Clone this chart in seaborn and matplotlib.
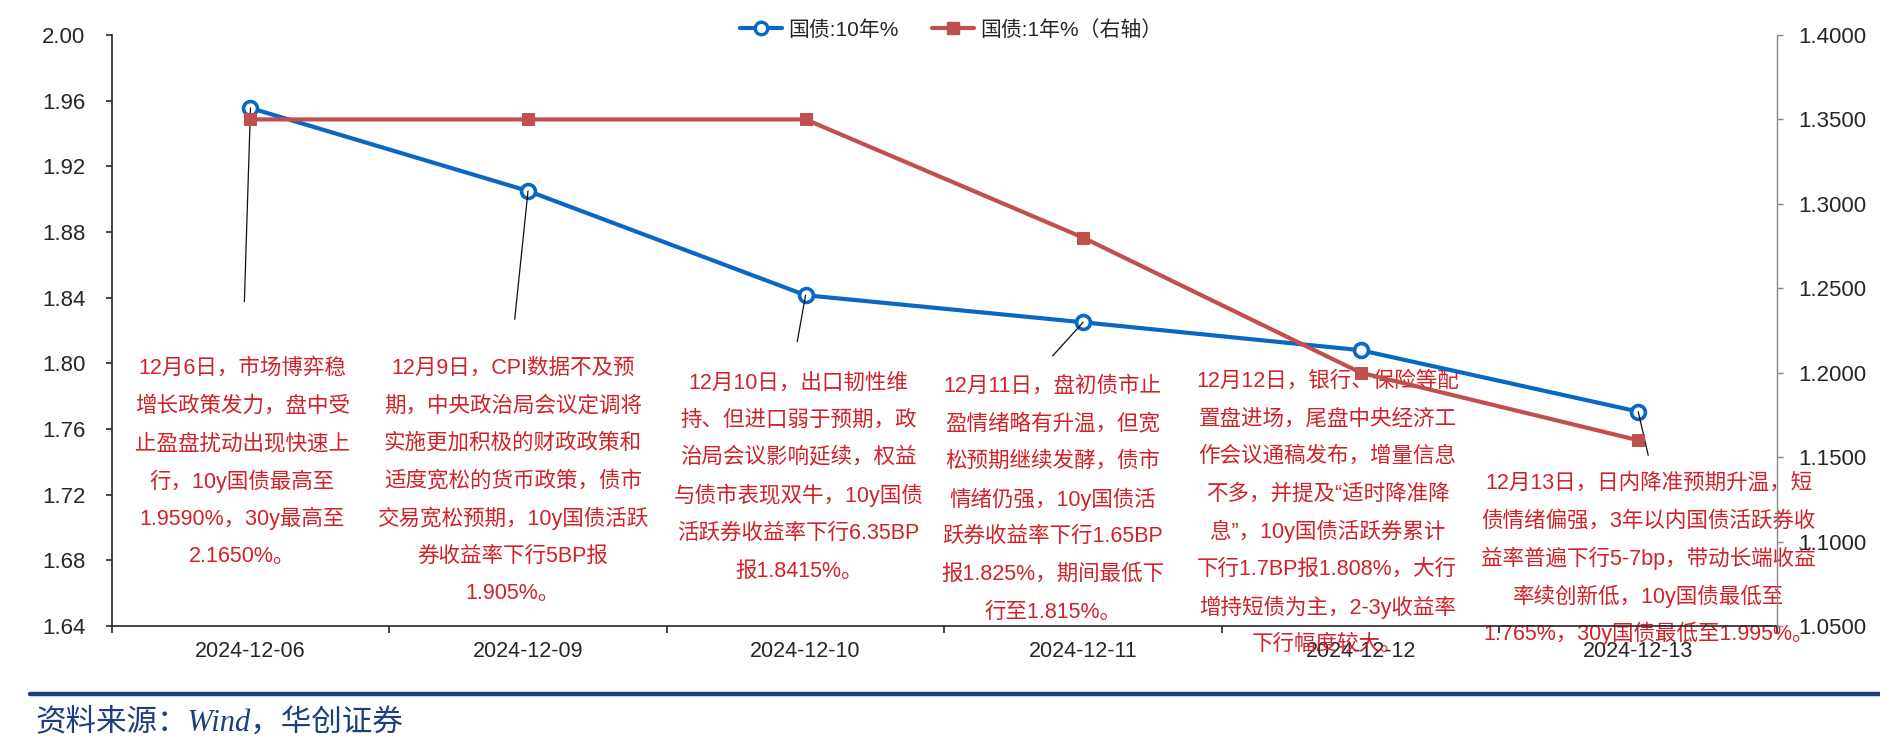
import matplotlib
matplotlib.use('Agg')
import matplotlib.pyplot as plt
import seaborn as sns
import pandas as pd
from matplotlib.lines import Line2D
from matplotlib.ticker import FormatStrFormatter, MultipleLocator

# ---------------- data ----------------
dates = ['2024-12-06', '2024-12-09', '2024-12-10', '2024-12-11', '2024-12-12', '2024-12-13']
yield_10y = [1.9555, 1.905, 1.8415, 1.825, 1.808, 1.7706]
yield_1y = [1.35, 1.35, 1.35, 1.28, 1.20, 1.16]
label_10y = '国债:10年%'
label_1y = '国债:1年%（右轴）'
source_text = '资料来源：Wind，华创证券'

note_1206 = ['12月6日，市场博弈稳', '增长政策发力，盘中受', '止盈盘扰动出现快速上',
             '行，10y国债最高至', '1.9590%，30y最高至', '2.1650%。']
note_1209 = ['12月9日，CPI数据不及预', '期，中央政治局会议定调将', '实施更加积极的财政政策和',
             '适度宽松的货币政策，债市', '交易宽松预期，10y国债活跃', '券收益率下行5BP报', '1.905%。']
note_1210 = ['12月10日，出口韧性维', '持、但进口弱于预期，政', '治局会议影响延续，权益',
             '与债市表现双牛，10y国债', '活跃券收益率下行6.35BP', '报1.8415%。']
note_1211 = ['12月11日，盘初债市止', '盈情绪略有升温，但宽', '松预期继续发酵，债市',
             '情绪仍强，10y国债活', '跃券收益率下行1.65BP', '报1.825%，期间最低下', '行至1.815%。']
note_1212 = ['12月12日，银行、保险等配', '置盘进场，尾盘中央经济工', '作会议通稿发布，增量信息',
             '不多，并提及“适时降准降', '息”，10y国债活跃券累计', '下行1.7BP报1.808%，大行',
             '增持短债为主，2-3y收益率', '下行幅度较大。']
note_1213 = ['12月13日，日内降准预期升温，短', '债情绪偏强，3年以内国债活跃券收',
             '益率普遍下行5-7bp，带动长端收益', '率续创新低，10y国债最低至',
             '1.765%，30y国债最低至1.995%。']
notes = [note_1206, note_1209, note_1210, note_1211, note_1212, note_1213]

# layout of the note blocks: (x offset from category, y of first line on left axis)
note_layout = [(-0.03, 1.797), (-0.055, 1.797), (-0.025, 1.788),
               (-0.11, 1.786), (-0.12, 1.789), (0.037, 1.727)]
line_step = 0.0229
# leader lines: (category index, x offset of end, y of end)
leaders = [(0, -0.022, 1.8376), (1, -0.048, 1.8268), (2, -0.03, 1.8132),
           (3, -0.11, 1.8045), (5, 0.036, 1.744)]

BLUE = '#0868C4'
RED = '#C0504D'
TXT_RED = '#D0222A'
NAVY = '#1C3F7E'
DARK = '#262626'

sns.set_theme(style='white')
plt.rcParams['font.family'] = ['Liberation Sans', 'Noto Sans CJK SC']
plt.rcParams['axes.unicode_minus'] = False

df = pd.DataFrame({'date': dates, 'y10': yield_10y, 'y1': yield_1y})

fig = plt.figure(figsize=(18.8, 7.45), dpi=100)
ax = fig.add_axes([111.7 / 1880, 1 - 626 / 745, (1777 - 111.7) / 1880, (626 - 35) / 745])
ax2 = ax.twinx()

sns.lineplot(data=df, x='date', y='y10', ax=ax, color=BLUE, linewidth=3, marker='o',
             markersize=10, markerfacecolor='white', markeredgecolor=BLUE,
             markeredgewidth=2.6, sort=False, zorder=3)
sns.lineplot(data=df, x='date', y='y1', ax=ax2, color=RED, linewidth=3, marker='s',
             markersize=9, markerfacecolor=RED, markeredgecolor=RED, sort=False, zorder=3)

for a in (ax, ax2):
    a.set_xlabel('')
    a.set_ylabel('')
    a.grid(False)

ax.set_xlim(-0.5, len(dates) - 0.5)
ax.set_ylim(1.64, 2.00)
ax.yaxis.set_major_locator(MultipleLocator(0.04))
ax.yaxis.set_major_formatter(FormatStrFormatter('%.2f'))
ax2.set_ylim(1.05, 1.40)
ax2.yaxis.set_major_locator(MultipleLocator(0.05))
ax2.yaxis.set_major_formatter(FormatStrFormatter('%.4f'))

# x ticks: marks between categories, labels at centres
ax.set_xticks([i - 0.5 for i in range(len(dates) + 1)])
ax.set_xticklabels([''] * (len(dates) + 1))
ax.set_xticks(range(len(dates)), minor=True)
ax.set_xticklabels(dates, minor=True)
ax.tick_params(axis='x', which='major', direction='out', length=5, width=1.2, color=DARK, bottom=True)
ax.tick_params(axis='x', which='minor', length=0, pad=11, labelsize=15.5, labelcolor=DARK, bottom=True)
ax.tick_params(axis='y', direction='out', length=4, width=1.2, color=DARK, pad=15,
               labelsize=16, labelcolor=DARK, left=True)
ax2.tick_params(axis='y', direction='out', length=4, width=1, color='#888888', pad=11,
                labelsize=16, labelcolor=DARK, right=True)

for s in ['top', 'right']:
    ax.spines[s].set_visible(False)
for s in ['top', 'left', 'bottom']:
    ax2.spines[s].set_visible(False)
ax.spines['left'].set_color(DARK)
ax.spines['bottom'].set_color(DARK)
ax.spines['left'].set_linewidth(1.2)
ax.spines['bottom'].set_linewidth(1.2)
ax2.spines['right'].set_color('#888888')
ax2.spines['right'].set_linewidth(1.0)

# notes
for (dx, y0), lines, xi in zip(note_layout, notes, range(len(dates))):
    for k, line in enumerate(lines):
        ax.text(xi + dx, y0 - k * line_step, line, ha='center', va='center',
                color=TXT_RED, fontsize=15.5, clip_on=False, zorder=2)

for idx, dx, yend in leaders:
    ax.annotate('', xy=(idx, yield_10y[idx]), xytext=(idx + dx, yend),
                arrowprops=dict(arrowstyle='-', color='#111111', lw=0.9,
                                shrinkA=0, shrinkB=0), zorder=4)

# legend
h1 = Line2D([], [], color=BLUE, lw=3, marker='o', markersize=9, markerfacecolor='white',
            markeredgecolor=BLUE, markeredgewidth=2.4)
h2 = Line2D([], [], color=RED, lw=3, marker='s', markersize=9, markerfacecolor=RED,
            markeredgecolor=RED)
fig.legend([h1, h2], [label_10y, label_1y], loc='center', bbox_to_anchor=(0.506, 0.96),
           ncol=2, frameon=False, fontsize=15, handlelength=2.0, handletextpad=0.3,
           columnspacing=1.6)

# footer
fig.add_artist(Line2D([0.016, 1.0], [0.0685, 0.0685], transform=fig.transFigure,
                      color=NAVY, lw=3.2))
fig.text(0.019, 0.0295, source_text, ha='left', va='center', color=NAVY, fontsize=22,
         style='italic', family=['Liberation Serif', 'Noto Sans CJK SC'])

fig.savefig('out.png', dpi=100)
